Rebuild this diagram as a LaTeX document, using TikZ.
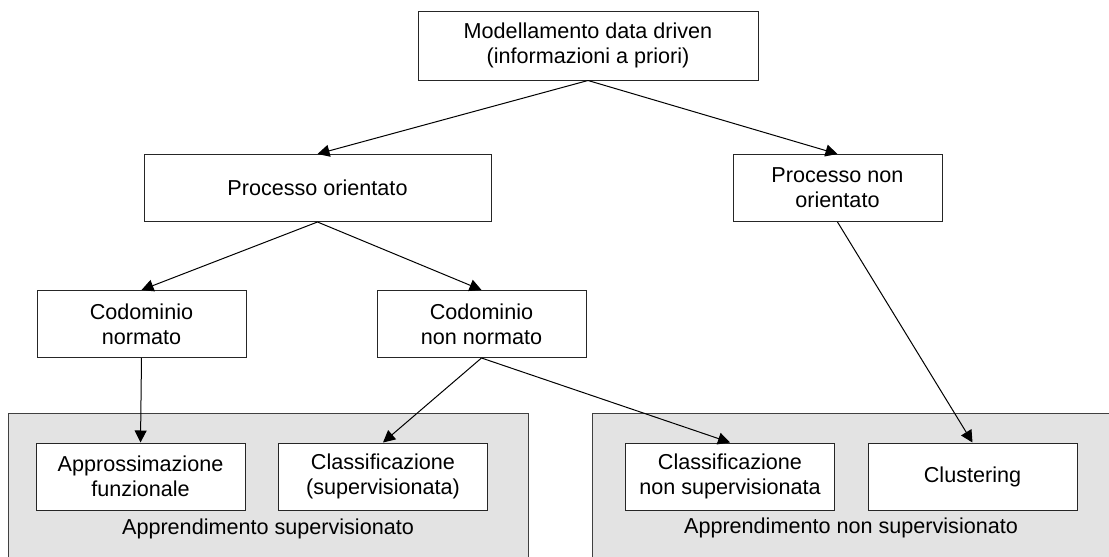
\documentclass[tikz,border=0pt]{standalone}
\usepackage{fontspec}
\setmainfont{Liberation Sans}
\usetikzlibrary{arrows.meta}

\begin{document}
\begin{tikzpicture}[x=0.5pt, y=-0.5pt, line width=0.5pt,
	textbox/.style={draw=black!85, fill=white, minimum width=104.5pt, minimum height=33.5pt, inner sep=0, align=center},
	groupbox/.style={draw=black!75, fill=black!11, inner sep=0, anchor=north west},
	every node/.style={font=\fontsize{10.8}{12.5}\selectfont},
	arr/.style={-{Triangle[length=6pt,width=6pt]}}
]
\useasboundingbox (0,0) rectangle (1109,557);
\clip (0,0) rectangle (1109,557);
%groups
\node[groupbox, minimum width=260pt, minimum height=100pt] (g1) at (8,413) {};
\node[groupbox, minimum width=265pt, minimum height=100pt] (g2) at (592,413) {};
\node (l1) at (268,529) {Apprendimento supervisionato};
\node (l2) at (851,528) {Apprendimento non supervisionato};
%boxes
\node[textbox, minimum width=170pt, minimum height=34.5pt] (v1) at (588,45.5) {Modellamento data driven\\(informazioni a priori)};
\node[textbox, minimum width=173.5pt] (v2) at (317.5,188) {Processo orientato};
\node[textbox] (v3) at (837.5,188) {Processo non\\orientato};
\node[textbox] (v4) at (141.5,324) {Codominio\\normato};
\node[textbox] (v5) at (481.5,324) {Codominio\\non normato};
\node[textbox] (v6) at (140.5,476.5) {Approssimazione\\funzionale};
\node[textbox] (v7) at (383,476.5) {Classificazione\\(supervisionata)};
\node[textbox] (v8) at (730,476.5) {Classificazione\\non supervisionata};
\node[textbox] (v9) at (972.5,476.5) {Clustering};
%arrows
\draw [arr] (v1.south) -- (v2.north);
\draw [arr] (v1.south) -- (v3.north);
\draw [arr] (v2.south) -- (v4.north);
\draw [arr] (v2.south) -- (v5.north);
\draw [arr] (v4.south) -- (v6.north);
\draw [arr] (v5.south) -- (v7.north);
\draw [arr] (v5.south) -- (v8.north);
\draw [arr] (v3.south) -- (v9.north);
\end{tikzpicture}
\end{document}
